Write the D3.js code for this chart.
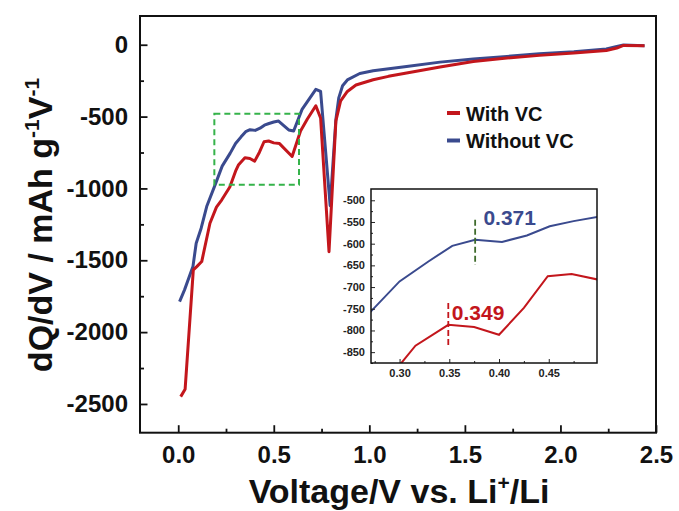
<!DOCTYPE html>
<html>
<head>
<meta charset="utf-8">
<script src="https://cdn.jsdelivr.net/npm/d3@7"></script>
<style>
body { margin: 0; background: #fff; }
svg { display: block; font-family: "Liberation Sans", Arial, sans-serif; font-weight: bold; }
</style>
</head>
<body>
<div id="chart"></div>
<script>
// data
var voltWith = [0.013, 0.036, 0.079, 0.097, 0.123, 0.166, 0.2, 0.228, 0.27, 0.30, 0.316, 0.349, 0.375, 0.40, 0.425, 0.449, 0.473, 0.50, 0.53, 0.596, 0.64, 0.675, 0.72, 0.745, 0.789, 0.825, 0.85, 0.885, 0.93, 1.02, 1.1, 1.195, 1.37, 1.544, 1.72, 1.89, 2.07, 2.24, 2.295, 2.33, 2.44];
var dqdvWith = [-2449, -2398, -1567, -1544, -1509, -1242, -1130, -1079, -990, -880, -835, -787, -792, -810, -748, -675, -670, -683, -688, -778, -600, -519, -425, -510, -1440, -530, -390, -325, -280, -244, -220, -197, -155, -116, -93, -74, -58, -40, -23, -5, -7];

var voltWithout = [0.007, 0.033, 0.077, 0.094, 0.12, 0.149, 0.193, 0.23, 0.2713, 0.30, 0.329, 0.353, 0.376, 0.403, 0.428, 0.451, 0.475, 0.50, 0.525, 0.578, 0.604, 0.648, 0.72, 0.745, 0.795, 0.825, 0.84, 0.86, 0.885, 0.95, 1.02, 1.195, 1.37, 1.544, 1.72, 1.89, 2.07, 2.24, 2.295, 2.33, 2.44];
var dqdvWithout = [-1788, -1706, -1544, -1381, -1277, -1126, -975, -845, -756, -687, -641, -605, -591, -596, -581, -560, -548, -538, -531, -593, -600, -450, -310, -325, -1120, -520, -370, -285, -245, -200, -181, -151, -121, -100, -81, -63, -49, -30, -12, -2, -7];

var seriesNames = ["With VC", "Without VC"];
var xTicks = [0, 0.5, 1, 1.5, 2, 2.5];
var xMinor = [0.25, 0.75, 1.25, 1.75, 2.25];
var yTicks = [0, -500, -1000, -1500, -2000, -2500];
var yMinor = [-250, -750, -1250, -1750, -2250];

var insetXTicks = [0.30, 0.35, 0.40, 0.45];
var insetXMinor = [0.275, 0.325, 0.375, 0.425, 0.475];
var insetYTicks = [-500, -550, -600, -650, -700, -750, -800, -850];
var insetYMinor = [-525, -575, -625, -675, -725, -775, -825, -875];

// zoom box drawn on the main plot
var boxVolt = [0.189, 0.632];
var boxDqdv = [-480, -975];

// onset markers in the inset
var markerVolt = [0.349, 0.376];
var markerTop = [-737, -545];
var markerBottom = [-837, -649];
var markerText = ["0.349", "0.371"];
var markerTextVolt = [0.3526, 0.3843];
var markerTextDqdv = [-775, -558];

var red = "#c3161c";
var blue = "#3a4a8e";
var colors = [red, blue];

var width = 679, height = 511;

// plain hyphen for negatives, like the original figure
var locale = d3.formatLocale({decimal: ".", thousands: "", grouping: [3], currency: ["", ""], minus: "-"});
var fmtInt = locale.format("d");
var fmt1 = locale.format(".1f");
var fmt2 = locale.format(".2f");

var svg = d3.select("#chart").append("svg")
    .attr("width", width)
    .attr("height", height);

svg.append("rect").attr("width", width).attr("height", height).attr("fill", "#fff");

// main scales
var x = d3.scaleLinear().domain([-0.2, 2.5]).range([140, 656]);
var y = d3.scaleLinear().domain([-2700, 200]).range([432.7, 16]);

var withData = voltWith.map(function(v, i) { return [v, dqdvWith[i]]; });
var withoutData = voltWithout.map(function(v, i) { return [v, dqdvWithout[i]]; });

// axes (ticks point inward)
var xAxis = svg.append("g")
    .attr("transform", "translate(0," + y.range()[0] + ")")
    .call(d3.axisBottom(x).tickValues(xTicks).tickSize(-7.5).tickPadding(13).tickFormat(fmt1));
var xAxisMinor = svg.append("g")
    .attr("transform", "translate(0," + y.range()[0] + ")")
    .call(d3.axisBottom(x).tickValues(xMinor).tickSize(-4).tickFormat(""));
var yAxis = svg.append("g")
    .attr("transform", "translate(" + x.range()[0] + ",0)")
    .call(d3.axisLeft(y).tickValues(yTicks).tickSize(-7.5).tickPadding(12).tickFormat(fmtInt));
var yAxisMinor = svg.append("g")
    .attr("transform", "translate(" + x.range()[0] + ",0)")
    .call(d3.axisLeft(y).tickValues(yMinor).tickSize(-4).tickFormat(""));

[xAxis, xAxisMinor, yAxis, yAxisMinor].forEach(function(g) {
    g.select(".domain").remove();
    g.selectAll("line").attr("stroke", "#111").attr("stroke-width", 1.8);
    g.selectAll("text").attr("fill", "#111").style("font-size", "24px").style("font-weight", "bold")
        .style("font-family", '"Liberation Sans", Arial, sans-serif');
});

// frame
svg.append("rect")
    .attr("x", x.range()[0]).attr("y", y.range()[1])
    .attr("width", x.range()[1] - x.range()[0])
    .attr("height", y.range()[0] - y.range()[1])
    .attr("fill", "none").attr("stroke", "#111").attr("stroke-width", 2);

// curves
var line = d3.line().x(function(d) { return x(d[0]); }).y(function(d) { return y(d[1]); });

svg.append("path").datum(withoutData)
    .attr("d", line).attr("fill", "none").attr("stroke", blue).attr("stroke-width", 3)
    .attr("stroke-linejoin", "round");
svg.append("path").datum(withData)
    .attr("d", line).attr("fill", "none").attr("stroke", red).attr("stroke-width", 3)
    .attr("stroke-linejoin", "round");

// dashed zoom box
svg.append("rect")
    .attr("x", x(boxVolt[0])).attr("y", y(boxDqdv[0]))
    .attr("width", x(boxVolt[1]) - x(boxVolt[0]))
    .attr("height", y(boxDqdv[1]) - y(boxDqdv[0]))
    .attr("fill", "none").attr("stroke", "#35b34a").attr("stroke-width", 2)
    .attr("stroke-dasharray", "6,4");

// legend
var legend = svg.append("g");
seriesNames.forEach(function(name, i) {
    var ly = 113 + i * 27.5;
    legend.append("line")
        .attr("x1", 447).attr("x2", 460).attr("y1", ly).attr("y2", ly)
        .attr("stroke", colors[i]).attr("stroke-width", 4);
    legend.append("text")
        .attr("x", 466).attr("y", ly + 7.5)
        .style("font-size", "20px").attr("fill", "#111")
        .text(name);
});

// axis titles
var xTitle = svg.append("text")
    .attr("x", 399).attr("y", 503)
    .attr("text-anchor", "middle")
    .style("font-size", "34px").attr("fill", "#111");
xTitle.append("tspan").text("Voltage/V vs. Li");
xTitle.append("tspan").attr("dy", -13).style("font-size", "21px").text("+");
xTitle.append("tspan").attr("dy", 13).text("/Li");

var yTitle = svg.append("text")
    .attr("transform", "translate(52,225)rotate(-90)")
    .attr("text-anchor", "middle")
    .style("font-size", "34px").attr("fill", "#111");
yTitle.append("tspan").text("dQ/dV / mAh g");
yTitle.append("tspan").attr("dy", -13).style("font-size", "21px").text("-1");
yTitle.append("tspan").attr("dy", 13).text("V");
yTitle.append("tspan").attr("dy", -13).style("font-size", "21px").text("-1");

// inset
var ix = d3.scaleLinear().domain([0.2713, 0.4985]).range([371, 597]);
var iy = d3.scaleLinear().domain([-875, -474]).range([363, 189]);

var inset = svg.append("g");
inset.append("rect")
    .attr("x", ix.range()[0]).attr("y", iy.range()[1])
    .attr("width", ix.range()[1] - ix.range()[0])
    .attr("height", iy.range()[0] - iy.range()[1])
    .attr("fill", "#fff");

inset.append("clipPath").attr("id", "insetClip")
    .append("rect")
    .attr("x", ix.range()[0]).attr("y", iy.range()[1])
    .attr("width", ix.range()[1] - ix.range()[0])
    .attr("height", iy.range()[0] - iy.range()[1]);

var iLine = d3.line().x(function(d) { return ix(d[0]); }).y(function(d) { return iy(d[1]); });
var iPlot = inset.append("g").attr("clip-path", "url(#insetClip)");
iPlot.append("path").datum(withoutData)
    .attr("d", iLine).attr("fill", "none").attr("stroke", blue).attr("stroke-width", 2);
iPlot.append("path").datum(withData)
    .attr("d", iLine).attr("fill", "none").attr("stroke", red).attr("stroke-width", 2);

var markerColors = [red, "#3f6b2c"];
var labelColors = [red, blue];
markerVolt.forEach(function(v, i) {
    inset.append("line")
        .attr("x1", ix(v)).attr("x2", ix(v))
        .attr("y1", iy(markerTop[i])).attr("y2", iy(markerBottom[i]))
        .attr("stroke", markerColors[i]).attr("stroke-width", 1.8)
        .attr("stroke-dasharray", "6,3");
    inset.append("text")
        .attr("x", ix(markerTextVolt[i])).attr("y", iy(markerTextDqdv[i]))
        .style("font-size", "21px").attr("fill", labelColors[i])
        .text(markerText[i]);
});

var ixAxis = inset.append("g")
    .attr("transform", "translate(0," + iy.range()[0] + ")")
    .call(d3.axisBottom(ix).tickValues(insetXTicks).tickSize(-4).tickPadding(6).tickFormat(fmt2));
var ixMinor = inset.append("g")
    .attr("transform", "translate(0," + iy.range()[0] + ")")
    .call(d3.axisBottom(ix).tickValues(insetXMinor).tickSize(-2).tickFormat(""));
var iyAxis = inset.append("g")
    .attr("transform", "translate(" + ix.range()[0] + ",0)")
    .call(d3.axisLeft(iy).tickValues(insetYTicks).tickSize(-4).tickPadding(6).tickFormat(fmtInt));
var iyMinor = inset.append("g")
    .attr("transform", "translate(" + ix.range()[0] + ",0)")
    .call(d3.axisLeft(iy).tickValues(insetYMinor).tickSize(-2).tickFormat(""));

[ixAxis, ixMinor, iyAxis, iyMinor].forEach(function(g) {
    g.select(".domain").remove();
    g.selectAll("line").attr("stroke", "#222").attr("stroke-width", 1);
    g.selectAll("text").attr("fill", "#222").style("font-size", "11px").style("font-weight", "bold")
        .style("font-family", '"Liberation Sans", Arial, sans-serif');
});

inset.append("rect")
    .attr("x", ix.range()[0]).attr("y", iy.range()[1])
    .attr("width", ix.range()[1] - ix.range()[0])
    .attr("height", iy.range()[0] - iy.range()[1])
    .attr("fill", "none").attr("stroke", "#111").attr("stroke-width", 1.5);
</script>
</body>
</html>
